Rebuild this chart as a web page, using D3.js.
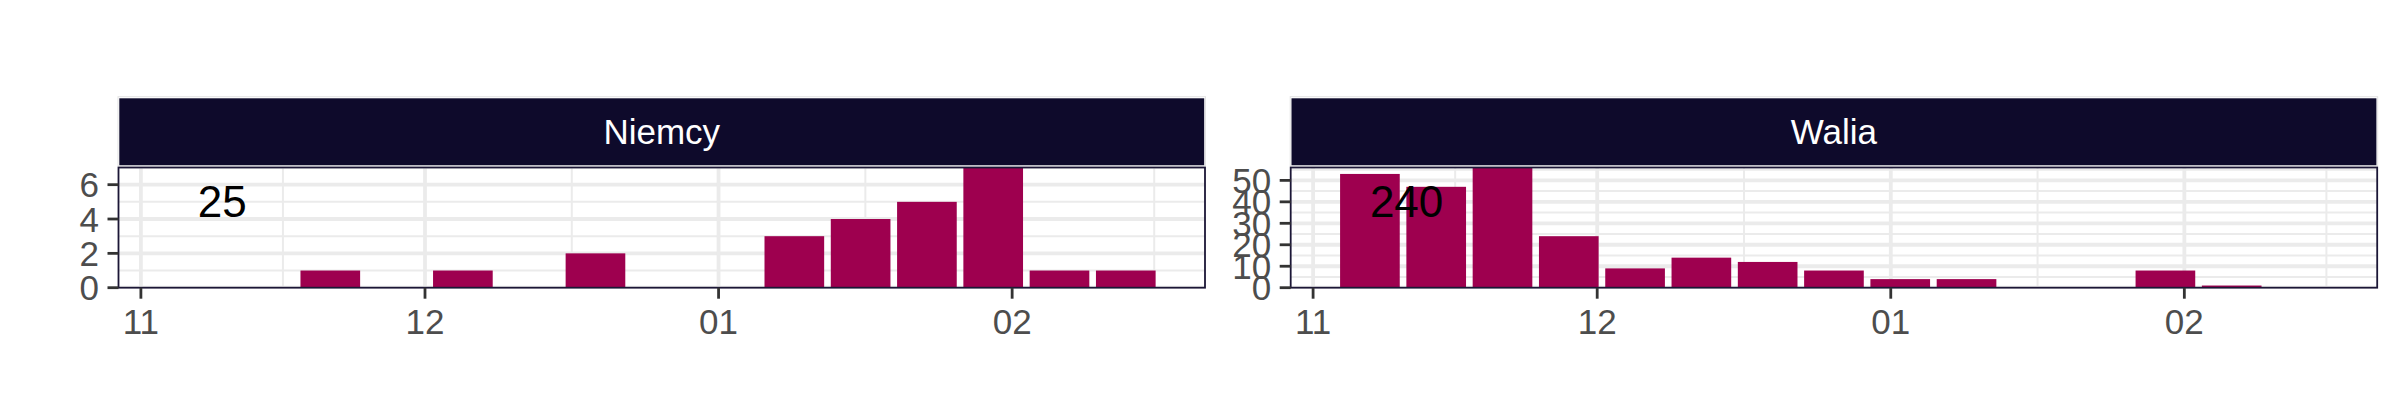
<!DOCTYPE html>
<html>
<head>
<meta charset="utf-8">
<script src="https://cdn.jsdelivr.net/npm/d3@7"></script>
<style>
  html, body { margin: 0; padding: 0; background: #ffffff; }
  svg { display: block; }
  text { font-family: "Liberation Sans", Arial, Helvetica, sans-serif; }
</style>
</head>
<body>
<div id="chart"></div>
<script>
// ---------- data ----------
const countries = ["Niemcy", "Walia"];
const niemcyWeeks = ["2021-11-21","2021-12-05","2021-12-19","2022-01-09","2022-01-16","2022-01-23","2022-01-30","2022-02-06","2022-02-13"];
const niemcyCounts = [1, 1, 2, 3, 4, 5, 7, 1, 1];
const waliaWeeks = ["2021-11-07","2021-11-14","2021-11-21","2021-11-28","2021-12-05","2021-12-12","2021-12-19","2021-12-26","2022-01-02","2022-01-09","2022-01-30","2022-02-06"];
const waliaCounts = [53, 47, 56, 24, 9, 14, 12, 8, 4, 4, 8, 1];
const xTickDates = ["2021-11-01","2021-12-01","2022-01-01","2022-02-01"];
const xTickLabels = ["11", "12", "01", "02"];
const niemcyYTicks = [0, 2, 4, 6];
const waliaYTicks = [0, 10, 20, 30, 40, 50];

// ---------- layout / style ----------
const W = 2400, H = 420;
const barColor = "#9E004F";
const stripColor = "#0E0A2B";
const gridColor = "#EBEBEB";
const panelTop = 167.5, panelBottom = 287.7;
const panelW = 1086.5;
const panelLefts = [118.5, 1290.7];
const stripTop = 98.3, stripBottom = 165.2;
const axisFont = 35;
const tickLen = 11;
const DAY = 86400000;

const parse = d3.utcParse("%Y-%m-%d");
const series = [
  { name: countries[0], data: niemcyWeeks.map((d, i) => ({ date: parse(d), n: niemcyCounts[i] })), yTicks: niemcyYTicks },
  { name: countries[1], data: waliaWeeks.map((d, i) => ({ date: parse(d), n: waliaCounts[i] })), yTicks: waliaYTicks }
];

// shared x scale (ggplot-style: bar width 0.9 week, 5% expansion)
const halfBar = 0.45 * 7 * DAY;
const allDates = series.flatMap(s => s.data.map(d => d.date));
const xmin = d3.min(allDates).getTime() - halfBar;
const xmax = d3.max(allDates).getTime() + halfBar;
const span = xmax - xmin;
const x = d3.scaleUtc()
  .domain([new Date(xmin - 0.05 * span), new Date(xmax + 0.05 * span)])
  .range([0, panelW]);

const tickDates = xTickDates.map(parse);
// minor breaks: midpoints between majors (and beyond)
const minorX = [];
for (let i = 0; i < tickDates.length - 1; i++) {
  minorX.push(new Date((tickDates[i].getTime() + tickDates[i + 1].getTime()) / 2));
}
minorX.push(new Date(tickDates[tickDates.length - 1].getTime() + (tickDates[1].getTime() - tickDates[0].getTime()) / 2));

const svg = d3.select("#chart").append("svg")
  .attr("width", W).attr("height", H)
  .attr("viewBox", `0 0 ${W} ${H}`);

svg.append("rect").attr("width", W).attr("height", H).attr("fill", "#ffffff");

series.forEach((s, si) => {
  const left = panelLefts[si];
  const ymax = d3.max(s.data, d => d.n);
  const y = d3.scaleLinear().domain([0, ymax]).range([panelBottom, panelTop]);
  const g = svg.append("g").attr("transform", `translate(${left},0)`);

  // strip
  g.append("rect")
    .attr("x", -0.5).attr("y", stripTop - 1.6)
    .attr("width", panelW + 1).attr("height", stripBottom - stripTop + 2.2)
    .attr("fill", "none").attr("stroke", "#E3E3E3").attr("stroke-width", 1);
  g.append("rect")
    .attr("x", 0.8).attr("y", stripTop)
    .attr("width", panelW - 1.6).attr("height", stripBottom - stripTop)
    .attr("fill", stripColor);
  g.append("text")
    .attr("x", panelW / 2).attr("y", (stripTop + stripBottom) / 2 + 12.5)
    .attr("text-anchor", "middle")
    .attr("fill", "#ffffff")
    .attr("font-size", 35)
    .text(s.name);

  // panel background
  g.append("rect")
    .attr("x", 0).attr("y", panelTop)
    .attr("width", panelW).attr("height", panelBottom - panelTop)
    .attr("fill", "#ffffff");

  const clip = "clip" + si;
  g.append("clipPath").attr("id", clip).append("rect")
    .attr("x", 0).attr("y", panelTop)
    .attr("width", panelW).attr("height", panelBottom - panelTop);
  const inner = g.append("g").attr("clip-path", `url(#${clip})`);

  // minor grid
  const yStep = s.yTicks[1] - s.yTicks[0];
  const minorY = d3.range(yStep / 2, ymax + yStep, yStep);
  inner.selectAll(".hminor").data(minorY).enter().append("line")
    .attr("x1", 0).attr("x2", panelW)
    .attr("y1", d => y(d)).attr("y2", d => y(d))
    .attr("stroke", gridColor).attr("stroke-width", 2);
  inner.selectAll(".vminor").data(minorX).enter().append("line")
    .attr("x1", d => x(d)).attr("x2", d => x(d))
    .attr("y1", panelTop).attr("y2", panelBottom)
    .attr("stroke", gridColor).attr("stroke-width", 2);
  // major grid
  inner.selectAll(".hmajor").data(s.yTicks).enter().append("line")
    .attr("x1", 0).attr("x2", panelW)
    .attr("y1", d => y(d)).attr("y2", d => y(d))
    .attr("stroke", gridColor).attr("stroke-width", 3.8);
  inner.selectAll(".vmajor").data(tickDates).enter().append("line")
    .attr("x1", d => x(d)).attr("x2", d => x(d))
    .attr("y1", panelTop).attr("y2", panelBottom)
    .attr("stroke", gridColor).attr("stroke-width", 3.8);

  // bars
  inner.selectAll(".bar").data(s.data).enter().append("rect")
    .attr("x", d => x(new Date(d.date.getTime() - halfBar)))
    .attr("width", d => x(new Date(d.date.getTime() + halfBar)) - x(new Date(d.date.getTime() - halfBar)))
    .attr("y", d => y(d.n))
    .attr("height", d => y(0) - y(d.n))
    .attr("fill", barColor);

  // total label
  const total = d3.sum(s.data, d => d.n);
  g.append("text")
    .attr("x", x(d3.min(allDates)))
    .attr("y", panelTop + 49)
    .attr("font-size", 44)
    .attr("fill", "#000000")
    .text(total);

  // panel border
  g.append("rect")
    .attr("x", 0).attr("y", panelTop)
    .attr("width", panelW).attr("height", panelBottom - panelTop)
    .attr("fill", "none").attr("stroke", "#1B1636").attr("stroke-width", 1.8);

  // y axis
  g.selectAll(".ytick").data(s.yTicks).enter().append("line")
    .attr("x1", -tickLen).attr("x2", 0)
    .attr("y1", d => y(d)).attr("y2", d => y(d))
    .attr("stroke", "#333333").attr("stroke-width", 2.8);
  g.selectAll(".ylab").data(s.yTicks).enter().append("text")
    .attr("x", -tickLen - 8.5)
    .attr("y", d => y(d) + 12.5)
    .attr("text-anchor", "end")
    .attr("font-size", axisFont)
    .attr("fill", "#4D4D4D")
    .text(d => d);

  // x axis
  g.selectAll(".xtick").data(tickDates).enter().append("line")
    .attr("x1", d => x(d)).attr("x2", d => x(d))
    .attr("y1", panelBottom).attr("y2", panelBottom + tickLen)
    .attr("stroke", "#333333").attr("stroke-width", 2.8);
  g.selectAll(".xlab").data(tickDates).enter().append("text")
    .attr("x", d => x(d))
    .attr("y", panelBottom + 46.5)
    .attr("text-anchor", "middle")
    .attr("font-size", axisFont)
    .attr("fill", "#4D4D4D")
    .text((d, i) => xTickLabels[i]);
});
</script>
</body>
</html>
